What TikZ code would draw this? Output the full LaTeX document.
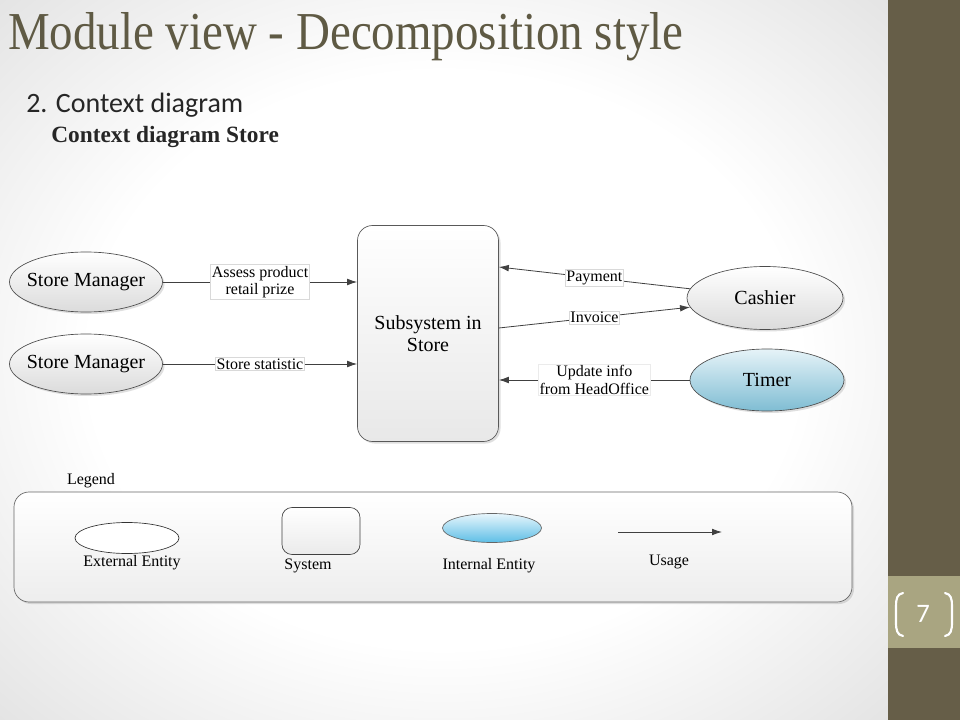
\documentclass[tikz,border=0pt]{standalone}
\usepackage{fontspec}
\setmainfont{Liberation Serif}
\newfontfamily\titlefont[FakeStretch=0.88]{Liberation Serif}
\newfontfamily\calib{Carlito}
\usetikzlibrary{shapes.geometric,arrows.meta,shadows}
\definecolor{band}{HTML}{665E48}
\definecolor{bandlight}{HTML}{A9A581}
\definecolor{titlecol}{HTML}{5F5A44}
\definecolor{bluetop}{HTML}{E6F3F8}
\definecolor{bluebot}{HTML}{7FBDD3}
\definecolor{lbluetop}{HTML}{E8F6FC}
\definecolor{lbluebot}{HTML}{5DBEE6}
\pgfdeclareradialshading{vignette}{\pgfpoint{0bp}{0bp}}{color(0bp)=(white); color(20bp)=(white); color(36bp)=(black!11); color(50bp)=(black!11)}
\begin{document}
\begin{tikzpicture}[x=0.75pt,y=-0.75pt,
  shad/.style={drop shadow={shadow xshift=1.5pt,shadow yshift=-1.5pt,opacity=0.25}},
  ext/.style={ellipse,draw=black!70,line width=0.5pt,top color=white,bottom color=black!14,
    shad,minimum width=153*0.75pt,minimum height=60*0.75pt,inner sep=0pt,
    font=\fontsize{15}{17}\selectfont},
  intl/.style={ext,top color=bluetop,bottom color=bluebot},
  sysbox/.style={rectangle,rounded corners=15*0.75pt,draw=black!65,line width=0.5pt,
    top color=white,bottom color=black!9,shad,minimum width=141*0.75pt,
    minimum height=216*0.75pt,align=center,font=\fontsize{15}{17}\selectfont},
  usage/.style={draw=black!75,line width=0.6pt,-{Latex[length=7.5pt,width=5pt]}},
  lbl/.style={fill=white,draw=black!15,line width=0.4pt,inner sep=1pt,
    font=\fontsize{12}{13}\selectfont,align=center},
  legtxt/.style={font=\fontsize{12}{14}\selectfont,inner sep=0pt},
  legbox/.style={rectangle,rounded corners=15*0.75pt,draw=black!60,line width=0.5pt,
    top color=white,bottom color=black!7,shad,minimum width=838*0.75pt,minimum height=110*0.75pt},
  bracket/.style={draw=white,line width=1.6pt,line cap=round}
]
\useasboundingbox (0,0) rectangle (960,720);
% background
\shade[shading=vignette] (0,0) rectangle (888,720);
\fill[band] (888,0) rectangle (960,720);
\fill[bandlight] (888,576) rectangle (960,648);
\draw[bracket] (903,593) .. controls (897,594) and (896,599) .. (896,606) -- (896,622) .. controls (896,630) and (897,635) .. (903,636);
\draw[bracket] (945,593) .. controls (951,594) and (952,599) .. (952,606) -- (952,622) .. controls (952,630) and (951,635) .. (945,636);
\node[text=white,font=\calib\fontsize{20}{22}\selectfont,inner sep=0pt] (pgno) at (923,614) {7};
% titles
\node[anchor=base west,inner sep=0pt,text=titlecol,font=\titlefont\fontsize{40}{44}\selectfont] (title) at (8,50) {Module view - Decomposition style};
\node[anchor=base west,inner sep=0pt,text=black!85,font=\calib\fontsize{21}{24}\selectfont] (sub1) at (26,113) {2. Context diagram};
\node[anchor=base west,inner sep=0pt,text=black!85,font=\bfseries\fontsize{17.5}{20}\selectfont] (sub2) at (51,143) {Context diagram Store};
% main diagram
\node[sysbox] (sub) at (428,333.5) {Subsystem in\\Store};
\node[ext] (sm1) at (86,282) {\makebox[0pt]{Store Manager}};
\node[ext] (sm2) at (86,364) {\makebox[0pt]{Store Manager}};
\node[ext,minimum width=156*0.75pt,minimum height=63*0.75pt] (cash) at (765,298) {\makebox[0pt]{Cashier}};
\node[intl,minimum width=154*0.75pt,minimum height=62*0.75pt] (tim) at (767,380) {\makebox[0pt]{Timer}};
\draw[usage] (sm1.east) -- node[lbl]{Assess product\\retail prize} (sm1 -| sub.west);
\draw[usage] (sm2.east) -- node[lbl]{Store statistic} (sm2 -| sub.west);
\coordinate (payin) at (sub.east |- 0,267);
\coordinate (invout) at (sub.east |- 0,328);
\draw[usage] (cash.173) -- node[lbl]{Payment} (payin);
\draw[usage] (invout) -- node[lbl]{Invoice} (cash.187);
\draw[usage] (tim.west) -- node[lbl,draw=black!8]{Update info\\from HeadOffice} (tim -| sub.east);
% legend
\node[legtxt] (legend) at (91,481) {Legend};
\node[legbox] (leg) at (433,547) {};
\node[ellipse,draw=black!80,line width=0.5pt,fill=white,minimum width=104*0.75pt,minimum height=31*0.75pt,inner sep=0pt] (lext) at (127,538) {};
\node[rectangle,rounded corners=10*0.75pt,draw=black!75,line width=0.5pt,top color=white,bottom color=black!8,minimum width=78*0.75pt,minimum height=47*0.75pt] (lsys) at (321,531) {};
\node[ellipse,draw=black!60,line width=0.5pt,top color=lbluetop,bottom color=lbluebot,minimum width=99*0.75pt,minimum height=29*0.75pt,inner sep=0pt] (lint) at (492,528) {};
\coordinate (u1) at (618,532);
\coordinate (u2) at (722,532);
\draw[usage] (u1) -- (u2);
\node[legtxt] (lt1) at (132,563) {External Entity};
\node[legtxt] (lt2) at (308,566) {System};
\node[legtxt] (lt3) at (489,566) {Internal Entity};
\node[legtxt] (lt4) at (669,562) {Usage};
\end{tikzpicture}
\end{document}
